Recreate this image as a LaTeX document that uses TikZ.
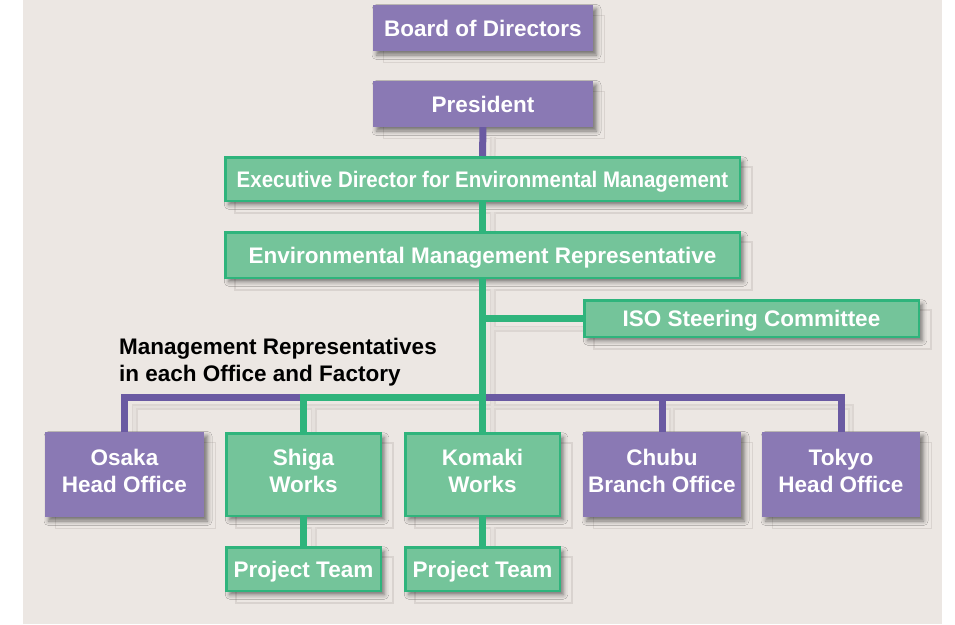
\documentclass[tikz,border=0pt]{standalone}
\usepackage{fontspec}
\setmainfont{Liberation Sans}
\newfontfamily\condfont[FakeStretch=0.91]{Liberation Sans}
\usetikzlibrary{shadows.blur}
\definecolor{bgcol}{HTML}{ECE7E3}
\definecolor{pfill}{HTML}{8A79B4}
\definecolor{pline}{HTML}{6A5AA2}
\definecolor{gfill}{HTML}{74C49A}
\definecolor{gline}{HTML}{2FB47C}
\definecolor{ghostcol}{HTML}{D9D3CF}
\definecolor{lshadowcol}{HTML}{DCD6D2}
\definecolor{lshadowin}{HTML}{E5E0DC}
\pgfdeclarelayer{bg}
\pgfdeclarelayer{lines}
\pgfsetlayers{bg,lines,main}
\tikzset{
  box/.style={rectangle, inner sep=0pt, text=white,
    font=\fontsize{22.5}{27}\selectfont\bfseries, align=center,
    blur shadow={shadow xshift=3.5pt, shadow yshift=-4pt, shadow blur radius=4.5pt, shadow opacity=50}},
  pbox/.style={box, fill=pfill},
  gbox/.style={box, fill=gfill, draw=gline, line width=2.5pt},
  one/.style={text height=16pt, text depth=0pt},
  two/.style={text depth=8pt},
  ghost/.style={draw=ghostcol, line width=1.2pt},
  glink/.style={draw=gline, line width=7pt},
  plink/.style={draw=pline, line width=7pt},
  slink/.style={draw=lshadowcol, line width=6pt},
  slinkin/.style={draw=lshadowin, line width=2.5pt},
  lab/.style={inner sep=0pt, align=left, text=black, font=\fontsize{22.5}{27}\selectfont\bfseries},
}
\newcommand{\orglinks}[2]{%
  \draw[#2] (pres.south) -- (exec.north);
  \draw[#2] (osaka.north) |- (shiga.north |- busy);
  \draw[#2] (trunkbus) -| (tokyo.north);
  \draw[#2] (chubu.north) -- (chubu.north |- busy);
  \draw[#1] (shiga.north) |- (trunkbus);
  \draw[#1] (exec.south) -- (env.north);
  \draw[#1] (env.south) -- (komaki.north);
  \draw[#1] (env.south |- iso.west) -- (iso.west);
  \draw[#1] (shiga.south) -- (pt1.north);
  \draw[#1] (komaki.south) -- (pt2.north);
}
\begin{document}
\begin{tikzpicture}[x=1pt,y=-1pt]
\useasboundingbox (0,0) rectangle (955,624);
% boxes
\node[pbox, one, minimum width=220pt, minimum height=46pt] (board) at (483,28) {Board of Directors};
\node[pbox, one, minimum width=220pt, minimum height=46pt] (pres) at (483,104) {President};
\node[gbox, one, minimum width=514.5pt, minimum height=43.5pt] (exec) at (482.5,179) {\condfont\bfseries Executive Director for Environmental Management};
\node[gbox, one, minimum width=514.5pt, minimum height=45.5pt] (env) at (482.5,255) {Environmental Management Representative};
\node[gbox, one, minimum width=334.5pt, minimum height=36.5pt] (iso) at (751.5,318.5) {ISO Steering Committee};
\node[pbox, two, minimum width=159pt, minimum height=85pt] (osaka) at (124.5,474.5) {Osaka\\Head Office};
\node[gbox, two, minimum width=154.5pt, minimum height=82.5pt] (shiga) at (303.5,474.5) {Shiga\\Works};
\node[gbox, two, minimum width=154.5pt, minimum height=82.5pt] (komaki) at (482.5,474.5) {Komaki\\Works};
\node[pbox, two, minimum width=158pt, minimum height=85pt] (chubu) at (662,474.5) {Chubu\\Branch Office};
\node[pbox, two, minimum width=158pt, minimum height=85pt] (tokyo) at (841,474.5) {Tokyo\\Head Office};
\node[gbox, one, minimum width=154.5pt, minimum height=43.5pt] (pt1) at (303.5,569) {Project Team};
\node[gbox, one, minimum width=154.5pt, minimum height=43.5pt] (pt2) at (482.5,569) {Project Team};
\node[lab, anchor=north west] (mrlabel) at (119,338) {Management Representatives\\in each Office and Factory};
\coordinate (busy) at (0,397);
\coordinate (trunkbus) at (komaki.north |- busy);
% background, ghost frames and line shadows
\begin{pgfonlayer}{bg}
  \fill[bgcol] (23,0) rectangle (942,624);
  \foreach \n in {board,pres,exec,env,iso,osaka,shiga,komaki,chubu,tokyo,pt1,pt2}
    \draw[ghost] ([shift={(11,11)}]\n.north west) rectangle ([shift={(11,11)}]\n.south east);
  \begin{scope}[transform canvas={shift={(10,10)}}]
    \orglinks{slink}{slink}
    \orglinks{slinkin}{slinkin}
  \end{scope}
\end{pgfonlayer}
% connectors
\orglinks{glink}{plink}
\end{tikzpicture}
\end{document}
